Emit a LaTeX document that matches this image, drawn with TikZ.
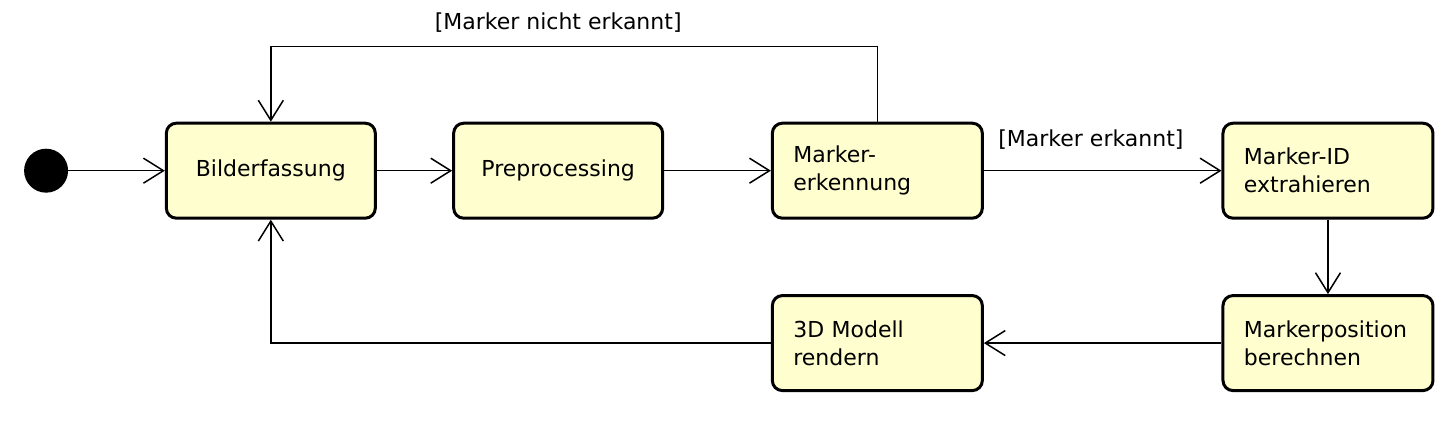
\documentclass[tikz,border=0pt]{standalone}
\usepackage{fontspec}
\setmainfont{DejaVu Sans}
\usetikzlibrary{arrows.meta}

\definecolor{actfill}{HTML}{FEFECE}

\tikzset{
	act/.style={draw, line width=1.5pt, rounded corners=5pt, fill=actfill,
		minimum width=104.5pt, minimum height=47.5pt,
		font=\fontsize{11}{14}\selectfont},
	actleft/.style={act, text width=84pt, align=left, inner xsep=10.5pt},
	flow/.style={-{Straight Barb[length=10pt, width=12.5pt]}, line width=.75pt},
	guard/.style={inner sep=0pt, font=\fontsize{11}{14}\selectfont}
}

\begin{document}
\begin{tikzpicture}
	\useasboundingbox (0, 0) rectangle (25.52, 7.59);

	% erste Reihe
	\node[circle, fill=black, minimum size=22pt, inner sep=0pt](start) at(.81, 4.59){};
	\node[act](bild) at(4.76, 4.59){Bilderfassung};
	\node[act](pre) at(9.81, 4.59){Preprocessing};
	\node[actleft](mark) at(15.42, 4.59){Marker-\\erkennung};
	\node[actleft](mid) at(23.34, 4.59){Marker-ID\\extrahieren};

	% zweite Reihe
	\node[actleft](pos) at(23.34, 1.56){Markerposition\\berechnen};
	\node[actleft](modell) at(15.42, 1.56){3D Modell\\rendern};

	\draw[flow](start) -- (bild);
	\draw[flow](bild) -- (pre);
	\draw[flow](pre) -- (mark);
	\draw[flow](mark) -- (mid);
		\node[guard, anchor=west](gok) at(17.54, 5.13){[Marker erkannt]};
	\draw[flow](mark.north) -- ++(0, 1.32) -| (bild.north);
		\node[guard](gnok) at(9.81, 7.19){[Marker nicht erkannt]};
	\draw[flow](mid) -- (pos);
	\draw[flow](pos) -- (modell);
	\draw[flow](modell.west) -| (bild.south);
\end{tikzpicture}
\end{document}
